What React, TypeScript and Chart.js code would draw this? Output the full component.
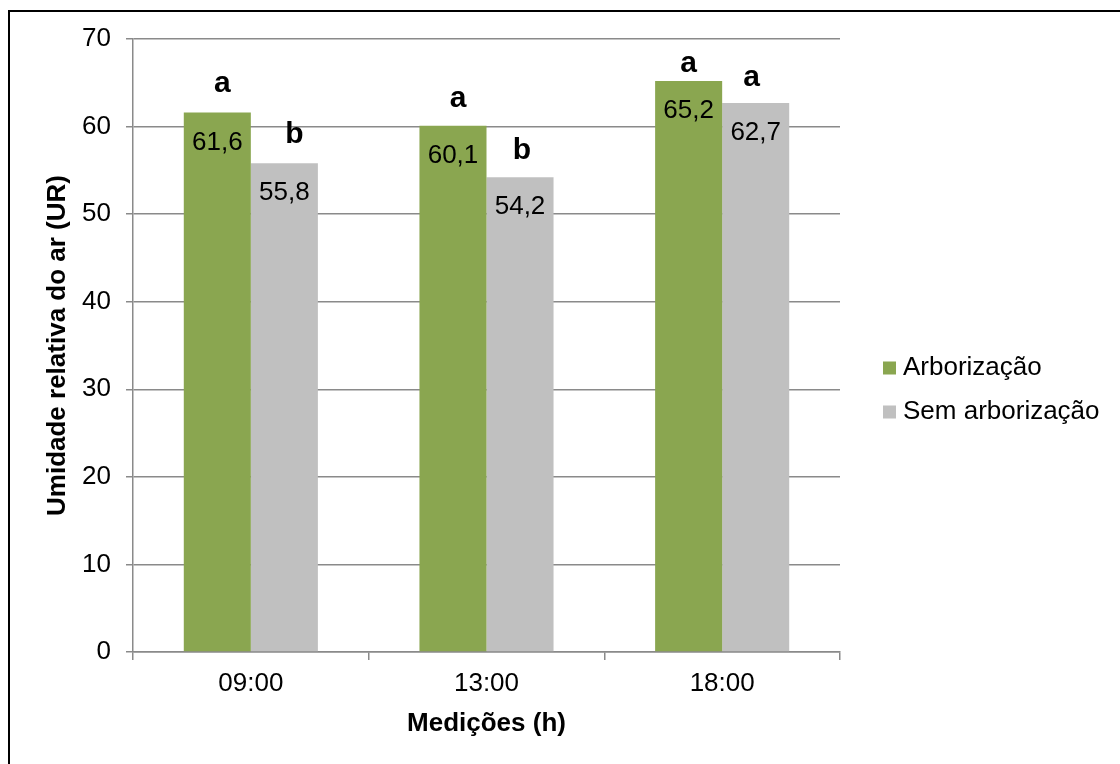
import React, { useEffect, useRef } from "react";
import { Chart, registerables } from "chart.js";

Chart.register(...registerables);

// Relative air humidity (UR) by measurement time, with and without trees
const categories = ["09:00", "13:00", "18:00"];
const seriesNames = ["Arborização", "Sem arborização"];
const arborizacao = [61.6, 60.1, 65.2];
const semArborizacao = [55.8, 54.2, 62.7];
// Statistical grouping letters (Tukey) shown above each bar
const arborizacaoLetters = ["a", "a", "a"];
const semArborizacaoLetters = ["b", "b", "a"];
const yMin = 0;
const yMax = 70;
const yStep = 10;

const FONT = "'Liberation Sans', Arial, Helvetica, sans-serif";
const GREEN = "#8aa650";
const GRAY = "#c0c0c0";
const LINE = "#8a8a8a";

// Per-bar nudges [dx, gap above bar top] for the grouping letters
const letterNudges = [
  [[5, 21], [5, 19], [0, 9]],
  [[10, 20], [2, 18], [-4, 17]],
];

const fmt = (v: number) => v.toFixed(1).replace(".", ",");

const annotationsPlugin = {
  id: "barAnnotations",
  afterDatasetsDraw(chart: any) {
    const ctx = chart.ctx as CanvasRenderingContext2D;
    const letterSets = [arborizacaoLetters, semArborizacaoLetters];
    ctx.save();
    chart.data.datasets.forEach((ds: any, di: number) => {
      const meta = chart.getDatasetMeta(di);
      meta.data.forEach((bar: any, i: number) => {
        const v = ds.data[i] as number;
        // value inside the top of the bar
        ctx.font = `26px ${FONT}`;
        ctx.fillStyle = "#000";
        ctx.textAlign = "center";
        ctx.textBaseline = "alphabetic";
        ctx.fillText(fmt(v), bar.x, bar.y + 37);
        // grouping letter above the bar
        const [dx, gap] = letterNudges[di][i];
        ctx.font = `bold 30px ${FONT}`;
        ctx.fillText(letterSets[di][i], bar.x + dx, bar.y - gap);
      });
    });

    // legend on the right
    const items = chart.data.datasets.map((ds: any) => ({
      label: ds.label as string,
      color: ds.backgroundColor as string,
    }));
    const rowY = [368, 412];
    items.forEach((it: any, k: number) => {
      ctx.fillStyle = it.color;
      ctx.fillRect(883, rowY[k] - 6.5, 13, 13);
      ctx.fillStyle = "#000";
      ctx.font = `26px ${FONT}`;
      ctx.textAlign = "left";
      ctx.textBaseline = "middle";
      ctx.fillText(it.label, 903, rowY[k]);
    });
    ctx.restore();
  },
};

export default function App() {
  const canvasRef = useRef<HTMLCanvasElement | null>(null);

  useEffect(() => {
    if (!canvasRef.current) return;
    const chart = new Chart(canvasRef.current, {
      type: "bar",
      data: {
        labels: categories,
        datasets: [
          {
            label: seriesNames[0],
            data: arborizacao,
            backgroundColor: GREEN,
            categoryPercentage: 0.569,
            barPercentage: 1,
          },
          {
            label: seriesNames[1],
            data: semArborizacao,
            backgroundColor: GRAY,
            categoryPercentage: 0.569,
            barPercentage: 1,
          },
        ],
      },
      options: {
        animation: false,
        responsive: false,
        devicePixelRatio: 1,
        layout: { padding: { top: 39, right: 280, left: 0, bottom: 0 } },
        plugins: {
          legend: { display: false },
          title: { display: false },
          tooltip: { enabled: false },
        },
        scales: {
          x: {
            offset: true,
            grid: {
              display: true,
              offset: true,
              drawOnChartArea: false,
              drawTicks: true,
              tickLength: 8,
              color: LINE,
              lineWidth: 1.5,
            },
            border: { display: true, color: LINE, width: 1.5 },
            ticks: {
              color: "#000",
              font: { family: FONT, size: 26 },
              padding: 8,
              maxRotation: 0,
            },
            title: {
              display: true,
              text: "Medições (h)",
              color: "#000",
              font: { family: FONT, size: 26, weight: "bold" },
              padding: { top: 0, bottom: 25 },
            },
            afterFit(scale: any) {
              scale.height = 112;
            },
          },
          y: {
            min: yMin,
            max: yMax,
            grid: {
              color: LINE,
              lineWidth: 1.5,
              drawTicks: true,
              tickLength: 7,
            },
            border: { display: true, color: LINE, width: 1.5 },
            ticks: {
              stepSize: yStep,
              color: "#000",
              font: { family: FONT, size: 26 },
              padding: 15,
            },
            title: {
              display: true,
              text: "Umidade relativa do ar (UR)",
              color: "#000",
              font: { family: FONT, size: 26, weight: "bold" },
              padding: { top: 42, bottom: 0 },
            },
            afterFit(scale: any) {
              scale.width = 133;
            },
          },
        },
      } as any,
      plugins: [annotationsPlugin],
    });
    return () => chart.destroy();
  }, []);

  return (
    <div
      style={{
        position: "fixed",
        left: 0,
        top: 0,
        width: 1120,
        height: 764,
        overflow: "hidden",
        background: "#fff",
      }}
    >
      <div
        style={{
          position: "absolute",
          left: 8,
          top: 10,
          width: 2000,
          height: 2000,
          border: "2px solid #000",
        }}
      />
      <canvas
        ref={canvasRef}
        width={1120}
        height={764}
        style={{ position: "absolute", left: 0, top: 0, display: "block" }}
      />
    </div>
  );
}
